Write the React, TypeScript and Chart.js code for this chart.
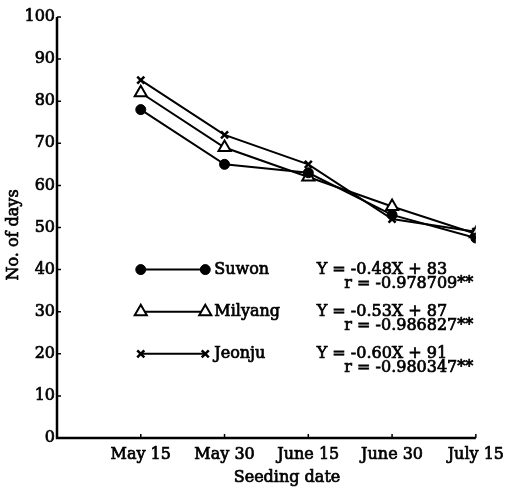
import React, { useEffect, useRef } from 'react';
import { Chart, registerables } from 'chart.js';
import { drawPoint } from 'chart.js/helpers';

Chart.register(...registerables);

const categories = ['May 15', 'May 30', 'June 15', 'June 30', 'July 15'];
const suwon = [78, 65, 63, 53, 47.5];
const milyang = [82, 69, 62, 55, 48.5];
const jeonju = [85, 72, 65, 52, 49];
const seriesNames = ['Suwon', 'Milyang', 'Jeonju'];
const equations = ['Y = -0.48X + 83', 'Y = -0.53X + 87', 'Y = -0.60X + 91'];
const rValues = ['r = -0.978709**', 'r = -0.986827**', 'r = -0.980347**'];
const legendRowValues = [40, 30, 20];
const yTitle = 'No. of days';
const xTitle = 'Seeding date';

const FONT = '"DejaVu Serif", "Liberation Serif", serif';
const STROKE = 0.7;

const heavyText = (ctx: any, text: string, x: number, y: number) => {
  ctx.lineWidth = STROKE;
  ctx.strokeStyle = '#000';
  ctx.strokeText(text, x, y);
  ctx.fillText(text, x, y);
};

const overlayPlugin = {
  id: 'overlay',
  afterDraw(chart: any) {
    const ctx = chart.ctx;
    const xs = chart.scales.x;
    const ys = chart.scales.y;
    const area = chart.chartArea;
    ctx.save();
    // axes
    ctx.strokeStyle = '#000';
    ctx.lineWidth = 2.5;
    ctx.beginPath();
    ctx.moveTo(area.left, area.top);
    ctx.lineTo(area.left, area.bottom);
    ctx.lineTo(area.right, area.bottom);
    ctx.stroke();
    // ticks (inward)
    ctx.lineWidth = 1.5;
    ctx.beginPath();
    for (let v = 0; v <= 100; v += 10) {
      const y = ys.getPixelForValue(v);
      ctx.moveTo(area.left, y);
      ctx.lineTo(area.left + 4, y);
    }
    for (let i = 1; i <= categories.length; i++) {
      const x = xs.getPixelForValue(i);
      ctx.moveTo(x, area.bottom);
      ctx.lineTo(x, area.bottom - 4);
    }
    ctx.stroke();

    // legend
    const datasets = chart.data.datasets;
    datasets.forEach((ds: any, i: number) => {
      const y = ys.getPixelForValue(legendRowValues[i]);
      const x1 = xs.getPixelForValue(1);
      const x2 = xs.getPixelForValue(1.77);
      ctx.strokeStyle = '#000';
      ctx.lineWidth = 2;
      ctx.beginPath();
      ctx.moveTo(x1, y);
      ctx.lineTo(x2, y);
      ctx.stroke();
      ctx.fillStyle = ds.pointBackgroundColor;
      ctx.strokeStyle = '#000';
      ctx.lineWidth = ds.pointBorderWidth;
      [x1, x2].forEach((px) => {
        drawPoint(ctx, { pointStyle: ds.pointStyle, radius: ds.pointRadius, rotation: 0, borderWidth: ds.pointBorderWidth }, px, y);
      });
      ctx.fillStyle = '#000';
      ctx.font = `16px ${FONT}`;
      ctx.textAlign = 'left';
      ctx.textBaseline = 'middle';
      heavyText(ctx, seriesNames[i], x2 + 9, y);
      heavyText(ctx, equations[i], xs.getPixelForValue(3.1), y);
      heavyText(ctx, rValues[i], xs.getPixelForValue(3.43), y + 14);
    });

    // axis titles
    ctx.fillStyle = '#000';
    ctx.font = `16px ${FONT}`;
    ctx.textAlign = 'center';
    ctx.textBaseline = 'middle';
    heavyText(ctx, xTitle, 287, 478);
    ctx.save();
    ctx.translate(14, 235);
    ctx.rotate(-Math.PI / 2);
    heavyText(ctx, yTitle, 0, 0);
    ctx.restore();
    ctx.restore();
  },
};

export default function App() {
  const ref = useRef<HTMLCanvasElement>(null);
  useEffect(() => {
    if (!ref.current) return;
    const toPoints = (arr: number[]) => arr.map((v, i) => ({ x: i + 1, y: v }));
    const chart = new Chart(ref.current, {
      type: 'line',
      data: {
        datasets: [
          {
            label: seriesNames[0],
            data: toPoints(suwon),
            borderColor: '#000',
            borderWidth: 2,
            pointStyle: 'circle',
            pointRadius: 5,
            pointBackgroundColor: '#000',
            pointBorderColor: '#000',
            pointBorderWidth: 1,
            tension: 0,
          },
          {
            label: seriesNames[1],
            data: toPoints(milyang),
            borderColor: '#000',
            borderWidth: 2,
            pointStyle: 'triangle',
            pointRadius: 7,
            pointBackgroundColor: '#fff',
            pointBorderColor: '#000',
            pointBorderWidth: 2,
            tension: 0,
          },
          {
            label: seriesNames[2],
            data: toPoints(jeonju),
            borderColor: '#000',
            borderWidth: 2,
            pointStyle: 'crossRot',
            pointRadius: 5,
            pointBackgroundColor: '#000',
            pointBorderColor: '#000',
            pointBorderWidth: 2.5,
            tension: 0,
          },
        ] as any,
      },
      options: {
        animation: false,
        responsive: false,
        maintainAspectRatio: false,
        layout: { padding: { top: 17, right: 33, left: 0, bottom: 0 } },
        plugins: { legend: { display: false }, tooltip: { enabled: false } },
        scales: {
          x: {
            type: 'linear',
            min: 0,
            max: 5,
            afterFit: (s: any) => { s.height = 52; },
            grid: { display: false, drawTicks: false },
            border: { display: false },
            ticks: {
              stepSize: 1,
              autoSkip: false,
              maxRotation: 0,
              padding: 7,
              color: '#000',
              textStrokeColor: '#000',
              textStrokeWidth: STROKE,
              font: { family: FONT, size: 16 },
              callback: (v: any) => (v >= 1 && v <= categories.length ? categories[v - 1] : ''),
            },
          },
          y: {
            min: 0,
            max: 100,
            afterFit: (s: any) => { s.width = 57; },
            grid: { display: false, drawTicks: false },
            border: { display: false },
            ticks: {
              stepSize: 10,
              padding: 2,
              color: '#000',
              textStrokeColor: '#000',
              textStrokeWidth: STROKE,
              font: { family: FONT, size: 16 },
            },
          },
        },
      },
      plugins: [overlayPlugin],
    });
    return () => chart.destroy();
  }, []);
  return (
    <div style={{ position: 'fixed', left: 0, top: 0, width: 511, height: 490, background: '#fff' }}>
      <canvas ref={ref} width={511} height={490} style={{ width: 511, height: 490 }} />
    </div>
  );
}
